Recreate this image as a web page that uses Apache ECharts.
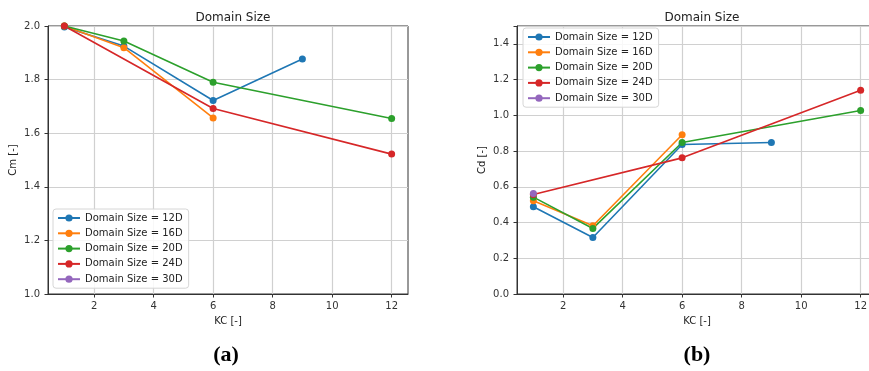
<!DOCTYPE html>
<html>
<head>
<meta charset="utf-8">
<script src="https://cdn.jsdelivr.net/npm/echarts@6/dist/echarts.min.js"></script>
<style>
  html, body { margin: 0; padding: 0; background: #fff; overflow: hidden; }
  #chart { width: 882px; height: 371px; }
</style>
</head>
<body>
<div id="chart"></div>
<script>
// KC values sampled for each domain size
const kc12 = [1, 3, 6, 9];
const kc16 = [1, 3, 6];
const kc20 = [1, 3, 6, 12];
const kc24 = [1, 6, 12];
const kc30 = [1];

// Inertia coefficient Cm
const cm12 = [1.996, 1.925, 1.722, 1.877];
const cm16 = [2.0, 1.919, 1.657];
const cm20 = [2.0, 1.944, 1.790, 1.655];
const cm24 = [2.0, 1.692, 1.522];

// Drag coefficient Cd
const cd12 = [0.488, 0.316, 0.837, 0.848];
const cd16 = [0.522, 0.382, 0.891];
const cd20 = [0.542, 0.367, 0.848, 1.027];
const cd24 = [0.557, 0.762, 1.141];
const cd30 = [0.563];

const seriesNames = ['Domain Size = 12D', 'Domain Size = 16D', 'Domain Size = 20D',
                     'Domain Size = 24D', 'Domain Size = 30D'];
const colors = ['#1f77b4', '#ff7f0e', '#2ca02c', '#d62728', '#9467bd'];
const xTicks = [2, 4, 6, 8, 10, 12];

const FONT = 'DejaVu Sans';

function pairs(xs, ys) { return xs.map((x, i) => [x, ys[i]]); }

function lineSeries(idx, gridIdx, xs, ys) {
  return {
    type: 'line',
    name: seriesNames[idx],
    xAxisIndex: gridIdx,
    yAxisIndex: gridIdx,
    data: pairs(xs, ys),
    symbol: 'circle',
    symbolSize: 7,
    showSymbol: true,
    clip: true,
    color: colors[idx],
    lineStyle: { width: 1.6, color: colors[idx] },
    itemStyle: { color: colors[idx] },
    emphasis: { disabled: true },
    animation: false
  };
}

function xAxisDef(gridIdx) {
  return {
    type: 'value', gridIndex: gridIdx, min: 0.45, max: 12.55,
    name: 'KC [-]', nameLocation: 'middle', nameGap: 22,
    nameTextStyle: { fontFamily: FONT, fontSize: 10, color: '#222' },
    axisLine: { show: true, lineStyle: { color: '#333', width: 1 } },
    axisTick: { show: true, inside: false, length: 3.5, lineStyle: { color: '#333' }, customValues: xTicks },
    axisLabel: { fontFamily: FONT, fontSize: 10, color: '#333', margin: 7, customValues: xTicks },
    splitLine: { show: true, lineStyle: { color: '#d0d0d0', width: 1.2 } }
  };
}

function yAxisDef(gridIdx, min, max, name, hideAbove) {
  return {
    type: 'value', gridIndex: gridIdx, min: min, max: max, interval: 0.2,
    name: name, nameLocation: 'middle', nameGap: 30, nameRotate: 90,
    nameTextStyle: { fontFamily: FONT, fontSize: 10, color: '#222' },
    axisLine: { show: true, lineStyle: { color: '#333', width: 1 } },
    axisTick: { show: true, inside: false, length: 3.5, lineStyle: { color: '#333' } },
    axisLabel: {
      fontFamily: FONT, fontSize: 10, color: '#333', margin: 8,
      formatter: v => (v > hideAbove ? '' : v.toFixed(1))
    },
    splitLine: { show: true, lineStyle: { color: '#d0d0d0', width: 1.2 } }
  };
}

function legendDef(left, top) {
  return {
    data: seriesNames,
    orient: 'vertical',
    left: left, top: top,
    itemWidth: 22, itemHeight: 9, itemGap: 5.3,
    padding: [4, 6, 4, 4],
    backgroundColor: 'rgba(255,255,255,0.85)',
    borderColor: '#d6d6d6', borderWidth: 1, borderRadius: 3,
    selectedMode: false,
    textStyle: { fontFamily: FONT, fontSize: 10, color: '#222' }
  };
}

const chart = echarts.init(document.getElementById('chart'), null, { renderer: 'canvas' });

chart.setOption({
  backgroundColor: '#fff',
  animation: false,
  title: [
    { text: 'Domain Size', left: 228, top: 7, textAlign: 'center',
      textStyle: { fontFamily: FONT, fontSize: 12, fontWeight: 'normal', color: '#222' } },
    { text: 'Domain Size', left: 697, top: 7, textAlign: 'center',
      textStyle: { fontFamily: FONT, fontSize: 12, fontWeight: 'normal', color: '#222' } },
    { text: '(a)', left: 221, top: 339, textAlign: 'center',
      textStyle: { fontFamily: 'Liberation Serif', fontSize: 22, fontWeight: 'bold', color: '#000' } },
    { text: '(b)', left: 692, top: 339, textAlign: 'center',
      textStyle: { fontFamily: 'Liberation Serif', fontSize: 22, fontWeight: 'bold', color: '#000' } }
  ],
  grid: [
    { left: 48, top: 26, width: 360, height: 268, show: true, borderColor: '#333', borderWidth: 1, backgroundColor: 'transparent' },
    { left: 517, top: 26, width: 360, height: 268, show: true, borderColor: '#333', borderWidth: 1, backgroundColor: 'transparent' }
  ],
  xAxis: [xAxisDef(0), xAxisDef(1)],
  yAxis: [
    yAxisDef(0, 1.0, 2.0, 'Cm [-]', 10),
    yAxisDef(1, 0, 1.5, 'Cd [-]', 1.45)
  ],
  legend: [legendDef(53, 209), legendDef(523, 28)],
  series: [
    lineSeries(0, 0, kc12, cm12),
    lineSeries(1, 0, kc16, cm16),
    lineSeries(2, 0, kc20, cm20),
    lineSeries(3, 0, kc24, cm24),
    lineSeries(0, 1, kc12, cd12),
    lineSeries(1, 1, kc16, cd16),
    lineSeries(2, 1, kc20, cd20),
    lineSeries(3, 1, kc24, cd24),
    lineSeries(4, 1, kc30, cd30)
  ]
});
</script>
</body>
</html>
